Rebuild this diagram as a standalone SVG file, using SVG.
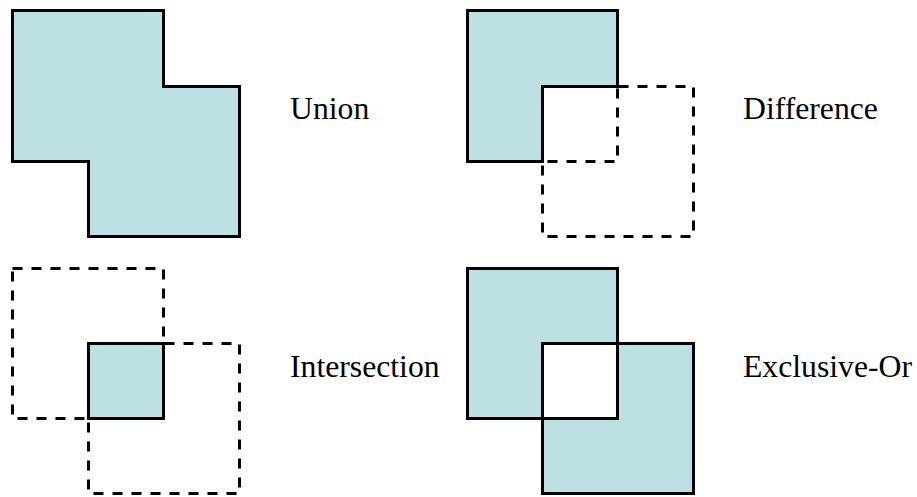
<svg xmlns="http://www.w3.org/2000/svg" width="917" height="497" viewBox="0 0 917 497">
  <style>
    .fill { fill: #bce0e3; }
    .solid { fill: none; stroke: #000; stroke-width: 3; stroke-linejoin: miter; }
    .dash { fill: none; stroke: #000; stroke-width: 3; stroke-dasharray: 10 9; }
    .label { font-family: "Liberation Serif", "Times New Roman", serif; font-size: 31.7px; fill: #000; }
  </style>
  <rect width="917" height="497" fill="#fff"/>

  <!-- Union -->
  <g id="union">
    <path class="fill" d="M12.5 10.5 H163.5 V86.5 H239.5 V236.5 H88.5 V161.5 H12.5 Z"/>
    <path class="solid" d="M12.5 10.5 H163.5 V86.5 H239.5 V236.5 H88.5 V161.5 H12.5 Z"/>
    <text class="label" x="290" y="119">Union</text>
  </g>

  <!-- Difference -->
  <g id="difference">
    <rect class="dash" x="467.5" y="10.5" width="150" height="151"/>
    <rect class="dash" x="542.5" y="86.5" width="151" height="150"/>
    <path class="fill" d="M467.5 10.5 H617.5 V86.5 H542.5 V161.5 H467.5 Z"/>
    <path class="solid" d="M467.5 10.5 H617.5 V86.5 H542.5 V161.5 H467.5 Z"/>
    <text class="label" x="743" y="119">Difference</text>
  </g>

  <!-- Intersection -->
  <g id="intersection">
    <rect class="dash" x="12.5" y="268.5" width="151" height="150"/>
    <rect class="dash" x="88.5" y="343.5" width="151" height="150"/>
    <rect class="fill" x="88.5" y="343.5" width="75" height="75"/>
    <rect class="solid" x="88.5" y="343.5" width="75" height="75"/>
    <text class="label" x="290" y="377">Intersection</text>
  </g>

  <!-- Exclusive-Or -->
  <g id="xor">
    <rect class="fill" x="467.5" y="268.5" width="150" height="150"/>
    <rect class="fill" x="542.5" y="343.5" width="151" height="150"/>
    <rect x="542.5" y="343.5" width="75" height="75" fill="#fff"/>
    <rect class="solid" x="467.5" y="268.5" width="150" height="150"/>
    <rect class="solid" x="542.5" y="343.5" width="151" height="150"/>
    <text class="label" x="743" y="377">Exclusive-Or</text>
  </g>

  <g id="connectors"/>
</svg>
